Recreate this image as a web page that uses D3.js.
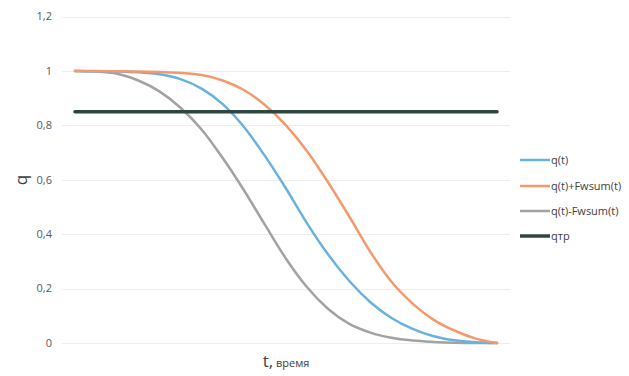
<!DOCTYPE html>
<meta charset="utf-8">
<title>q(t)</title>
<style>
    body {
        margin: 0;
        background: #fff;
        font-family: "Open Sans", "DejaVu Sans", sans-serif;
    }
    .grid line {
        stroke: #eeeeee;
        stroke-width: 1;
    }
    .tick-label {
        font-size: 11px;
        fill: #595959;
        text-anchor: end;
    }
    .legend text {
        font-size: 11px;
        fill: #404040;
    }
</style>
<body>
<div id="chart"></div>
<script src="https://d3js.org/d3.v7.min.js"></script>
<script>
    // time steps (categories along the x axis)
    var tIndex = d3.range(21);

    var q = [1.0, 0.999, 0.998, 0.995, 0.988, 0.97, 0.935, 0.878, 0.795, 0.688, 0.568,
        0.44, 0.325, 0.228, 0.15, 0.092, 0.052, 0.025, 0.01, 0.003, 0.0];
    var qPlus = [1.0, 1.0, 0.999, 0.998, 0.996, 0.993, 0.985, 0.965, 0.93, 0.875, 0.80,
        0.705, 0.59, 0.465, 0.335, 0.225, 0.145, 0.085, 0.045, 0.016, 0.0];
    var qMinus = [1.0, 0.998, 0.99, 0.965, 0.925, 0.865, 0.785, 0.68, 0.5625, 0.435, 0.31,
        0.205, 0.125, 0.07, 0.038, 0.019, 0.009, 0.004, 0.001, 0.0, 0.0];
    var qTr = tIndex.map(function() { return 0.85; });

    var yTicks = [0, 0.2, 0.4, 0.6, 0.8, 1, 1.2];

    var seriesNames = ["q(t)", "q(t)+Fwsum(t)", "q(t)-Fwsum(t)", "qтр"];
    var seriesValues = [q, qPlus, qMinus, qTr];
    var seriesColors = ["#68b2df", "#f29a6e", "#a2a2a2", "#2f4540"];
    var seriesWidths = [2.5, 2.5, 2.5, 3.5];

    var width = 629, height = 376;

    var svg = d3.select("#chart").append("svg")
        .attr("width", width)
        .attr("height", height);

    var x = d3.scaleLinear().domain([0, 20]).range([75, 497]);
    var y = d3.scaleLinear().domain([0, 1.2]).range([343, 16.6]);

    // gridlines
    svg.append("g").attr("class", "grid")
        .selectAll("line")
        .data(yTicks)
        .enter().append("line")
        .attr("x1", 62)
        .attr("x2", 510)
        .attr("y1", d => Math.round(y(d)) + 0.5)
        .attr("y2", d => Math.round(y(d)) + 0.5);

    // y tick labels
    svg.append("g")
        .selectAll("text")
        .data(yTicks)
        .enter().append("text")
        .attr("class", "tick-label")
        .attr("x", 52)
        .attr("y", d => y(d))
        .attr("dy", "0.35em")
        .text(d => d3.format("")(d).replace(".", ","));

    // lines
    var line = d3.line()
        .x((d, i) => x(tIndex[i]))
        .y(d => y(d))
        .curve(d3.curveMonotoneX);

    // draw order: grey, blue, orange, threshold on top
    [2, 0, 1, 3].forEach(function(k) {
        svg.append("path")
            .datum(seriesValues[k])
            .attr("d", line)
            .style("fill", "none")
            .style("stroke", seriesColors[k])
            .style("stroke-width", seriesWidths[k])
            .style("stroke-linecap", "round");
    });

    // axis titles
    svg.append("text")
        .attr("transform", "translate(27,180) rotate(-90)")
        .style("text-anchor", "middle")
        .style("font-size", "17px")
        .style("fill", "#404040")
        .text("q");

    var xt = svg.append("text")
        .attr("x", 286)
        .attr("y", 367)
        .style("text-anchor", "middle")
        .style("fill", "#404040");
    xt.append("tspan").style("font-size", "17px").text("t,");
    xt.append("tspan").style("font-size", "11px").text(" время");

    // legend
    var legendY = [160, 186, 211, 236];
    var legend = svg.append("g").attr("class", "legend");
    seriesNames.forEach(function(name, i) {
        legend.append("line")
            .attr("x1", 520)
            .attr("x2", 550)
            .attr("y1", legendY[i])
            .attr("y2", legendY[i])
            .style("stroke", seriesColors[i])
            .style("stroke-width", seriesWidths[i]);
        legend.append("text")
            .attr("x", 551)
            .attr("y", legendY[i])
            .attr("dy", "0.35em")
            .text(name);
    });
</script>
</body>
